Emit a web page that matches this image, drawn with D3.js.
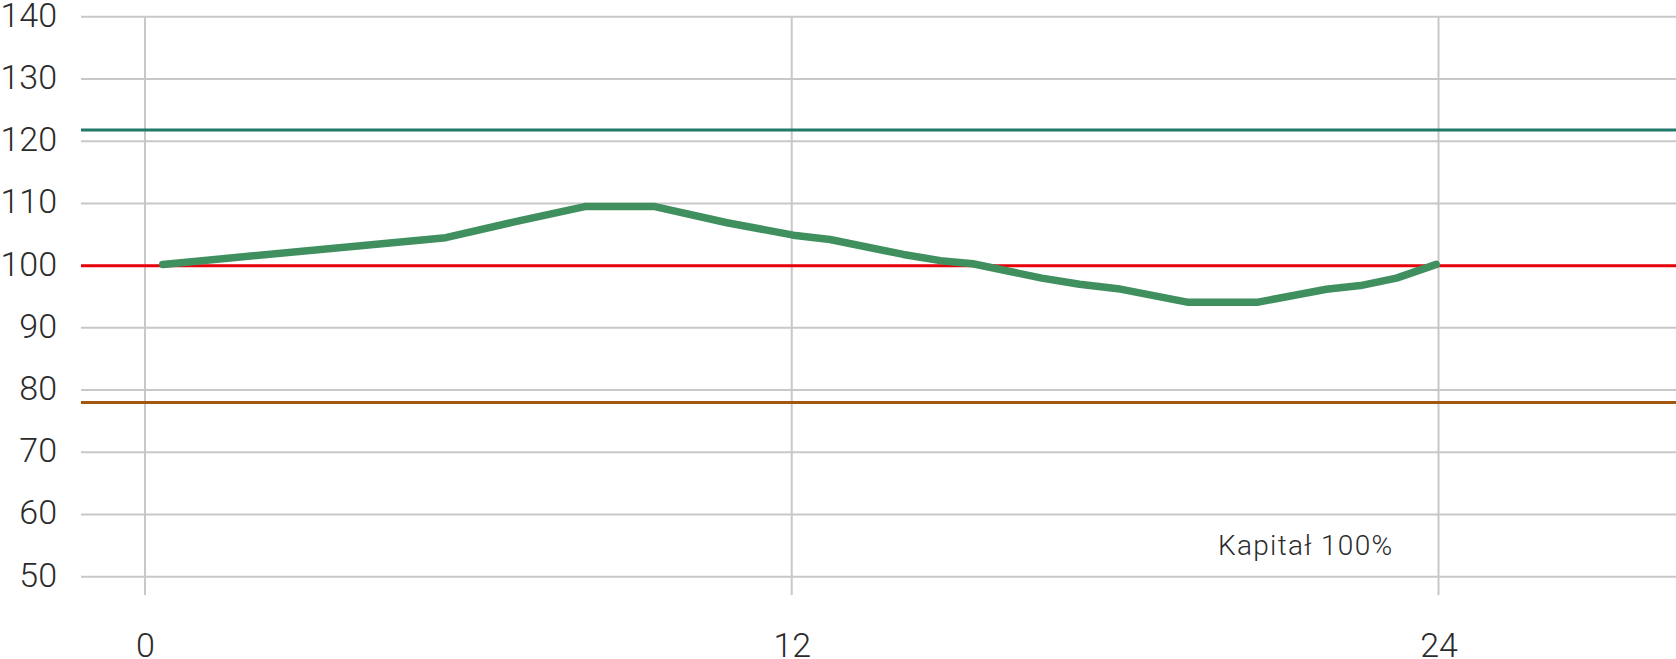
<!DOCTYPE html>
<html>
<head>
<meta charset="utf-8">
<script src="https://cdn.jsdelivr.net/npm/d3@7"></script>
<style>
  html, body { margin: 0; padding: 0; background: #fff; }
  svg { display: block; }
  text { font-family: Roboto, "Noto Sans", sans-serif; font-weight: 300; fill: #2b2b2b; }
</style>
</head>
<body>
<svg id="chart" width="1676" height="659"></svg>
<script>
// ---- data ----
const monthsX = [0.33, 5.58, 6.83, 8.16, 9.46, 10.8, 12.03, 12.71, 14.07, 14.76, 15.36, 16.64, 17.34, 18.05, 19.36, 20.63, 21.92, 22.55, 23.22, 23.96];
const capitalValues = [100.2, 104.5, 107.0, 109.5, 109.5, 106.9, 104.9, 104.2, 101.8, 100.8, 100.3, 98.0, 97.0, 96.3, 94.1, 94.1, 96.2, 96.8, 98.0, 100.2];
const yTicks = [50, 60, 70, 80, 90, 100, 110, 120, 130, 140];
const xTicks = [0, 12, 24];
const refLevels = [121.8, 100, 78];
const refNames = ["upper", "base", "lower"];
const refColors = ["#22786b", "#e8000b", "#a1570f"];
const seriesLabel = "Kapitał 100%";

// ---- layout ----
const W = 1676, H = 659;
const x = d3.scaleLinear().domain([0, 24]).range([145, 1438.5]);
const y = d3.scaleLinear().domain([50, 140]).range([576.7, 16.8]);
const gridLeft = 81, gridRight = W, vGridBottom = 595;

const svg = d3.select("#chart");

// horizontal gridlines
svg.append("g").selectAll("line").data(yTicks).join("line")
  .attr("x1", gridLeft).attr("x2", gridRight)
  .attr("y1", d => y(d)).attr("y2", d => y(d))
  .attr("stroke", "#c8c8c8").attr("stroke-width", 2);

// vertical gridlines
svg.append("g").selectAll("line").data(xTicks).join("line")
  .attr("x1", d => x(d)).attr("x2", d => x(d))
  .attr("y1", y(140)).attr("y2", vGridBottom)
  .attr("stroke", "#c8c8c8").attr("stroke-width", 2);

// y axis labels
const yAxis = d3.axisLeft(y).tickValues(yTicks).tickSize(0).tickPadding(0);
const gy = svg.append("g").attr("transform", "translate(57,0)").call(yAxis);
gy.select(".domain").remove();
gy.selectAll("text")
  .attr("font-family", null).attr("font-size", null)
  .style("font-size", "34px").attr("dy", "0.32em").attr("y", -1.5).attr("x", 0);

// x axis labels
const xAxis = d3.axisBottom(x).tickValues(xTicks).tickSize(0).tickPadding(0);
const gx = svg.append("g").attr("transform", "translate(0,657)").call(xAxis);
gx.select(".domain").remove();
gx.selectAll("text")
  .attr("font-family", null).attr("font-size", null)
  .style("font-size", "34px").attr("dy", 0).attr("y", 0);

// reference lines
svg.append("g").selectAll("line").data(refLevels).join("line")
  .attr("x1", gridLeft).attr("x2", gridRight)
  .attr("y1", d => y(d)).attr("y2", d => y(d))
  .attr("stroke", (d, i) => refColors[i]).attr("stroke-width", 3);

// capital line
const line = d3.line().x((d, i) => x(monthsX[i])).y(d => y(d));
svg.append("path").datum(capitalValues)
  .attr("d", line)
  .attr("fill", "none")
  .attr("stroke", "#408f5f")
  .attr("stroke-width", 7.5)
  .attr("stroke-linejoin", "round")
  .attr("stroke-linecap", "round");

// label
svg.append("text")
  .attr("x", 1218).attr("y", 555)
  .style("font-size", "28px")
  .style("letter-spacing", "1.3px")
  .text(seriesLabel);
</script>
</body>
</html>
